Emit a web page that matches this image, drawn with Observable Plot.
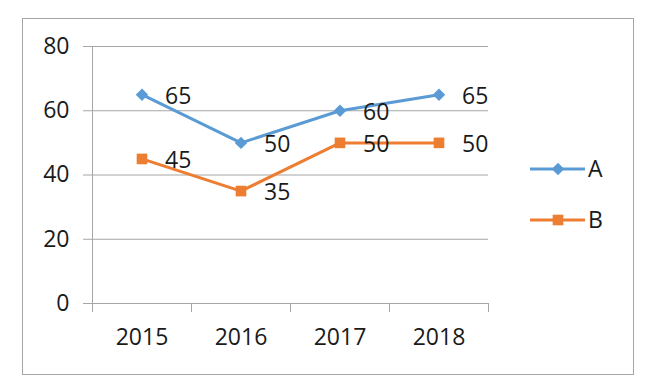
<!DOCTYPE html>
<html><head><meta charset="utf-8">
<script src="https://cdn.jsdelivr.net/npm/d3@7"></script>
<script src="https://cdn.jsdelivr.net/npm/@observablehq/plot@0.6"></script>
<style>
body{margin:0;background:#fff;}
#wrap{position:relative;width:662px;height:388px;font-family:"Open Sans",sans-serif;}
#border{position:absolute;left:22px;top:18px;width:612px;height:357px;border:1.5px solid #a6a6a6;box-sizing:border-box;}
#chart{position:absolute;left:0;top:0;}
#legend{position:absolute;left:0;top:0;}
</style></head><body><div id="wrap"><div id="border"></div><div id="chart"></div><svg id="legend" width="662" height="388"></svg></div>
<script>
const years = ["2015","2016","2017","2018"];
const seriesNames = ["A","B"];
const valuesA = [65,50,60,65];
const valuesB = [45,35,50,50];
const yTicks = [0,20,40,60,80];
const colors = ["#5B9BD5","#ED7D31"];
const symbols = ["diamond2","square"];

const data = [];
[valuesA, valuesB].forEach((vals,s)=> vals.forEach((v,i)=> data.push({series: seriesNames[s], year: years[i], i: i+0.5, value: v})));
const boundaries = d3.range(years.length+1);
const centers = years.map((_,i)=>i+0.5);
const gridColor = "#a6a6a6";
const textColor = "#1a1a1a";
const fontSize = 23;

const chart = Plot.plot({
  width:662, height:388, marginLeft:92, marginRight:174, marginTop:46, marginBottom:85,
  style:{fontFamily:"Open Sans", fontSize:fontSize+"px", color:textColor, background:"transparent", overflow:"visible"},
  x:{type:"linear", domain:[0,years.length]},
  y:{domain:[0,80]},
  color:{domain:seriesNames, range:colors},
  symbol:{domain:seriesNames, range:symbols},
  marks:[
    Plot.ruleY(yTicks,{stroke:gridColor}),
    Plot.ruleX([0],{y1:0,y2:80, stroke:gridColor}),
    Plot.axisY({ticks:yTicks, tickSize:9, tickPadding:14, stroke:gridColor, strokeOpacity:1, label:null}),
    Plot.axisX({ticks:boundaries, tickSize:9, tickFormat:()=>"", stroke:gridColor, strokeOpacity:1, label:null}),
    Plot.axisX({ticks:centers, tickSize:0, tickPadding:25, tickFormat:d=>years[Math.round(d-0.5)], label:null}),
    Plot.line(data,{x:"i", y:"value", z:"series", stroke:"series", strokeWidth:3}),
    Plot.dot(data.filter(d=>d.series==="A"),{x:"i", y:"value", fill:"series", symbol:"series", r:5.6, stroke:null}),
    Plot.dot(data.filter(d=>d.series==="B"),{x:"i", y:"value", fill:"series", symbol:"series", r:6, stroke:null}),
    Plot.text(data,{x:"i", y:"value", text:"value", textAnchor:"start", dx:23, dy:2, fill:textColor})
  ]
});
document.getElementById("chart").appendChild(chart);

// Legend
const lg = d3.select("#legend");
const legendYs = [169, 220];
seriesNames.forEach((name, k) => {
  const g = lg.append("g").attr("transform", `translate(0,${legendYs[k]})`);
  g.append("line").attr("x1",530).attr("x2",585).attr("y1",0).attr("y2",0)
    .attr("stroke",colors[k]).attr("stroke-width",3);
  const sym = k===0 ? d3.symbol(d3.symbolDiamond2, 5.6*5.6*Math.PI) : d3.symbol(d3.symbolSquare, 6*6*Math.PI);
  g.append("path").attr("d", sym()).attr("transform","translate(558,0)").attr("fill",colors[k]);
  g.append("text").attr("x",588).attr("y",0).attr("dy","0.35em")
    .attr("font-family","Open Sans").attr("font-size",fontSize).attr("fill",textColor).text(name);
});
</script>
</body></html>
